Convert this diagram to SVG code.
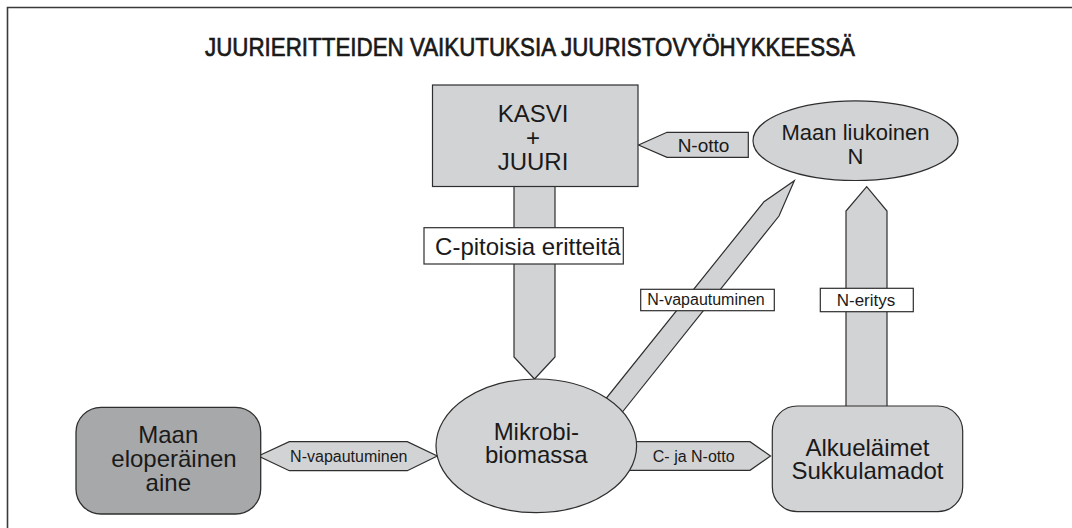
<svg xmlns="http://www.w3.org/2000/svg" width="1072" height="528" viewBox="0 0 1072 528">
  <style>
    .shape { fill: #d2d3d5; stroke: #2e2e2e; stroke-width: 1.2; }
    .dark { fill: #a7a8aa; stroke: #2e2e2e; stroke-width: 1.3; }
    .tag { fill: #ffffff; stroke: #2e2e2e; stroke-width: 1.2; }
    text { font-family: "Liberation Sans", Arial, sans-serif; fill: #1a1a1a; text-anchor: middle; }
    .big { font-size: 24px; }
    .mid { font-size: 22px; }
    .small { font-size: 16px; }
    .title { font-size: 26px; stroke: #1a1a1a; stroke-width: 0.7; }
  </style>

  <rect width="1072" height="528" fill="#ffffff"/>
  <!-- frame: top and left edges -->
  <path d="M7.5,528 V7.5 H1072" fill="none" stroke="#3a3a3a" stroke-width="1.6"/>

  <text class="title" x="530" y="56" textLength="650" lengthAdjust="spacingAndGlyphs">JUURIERITTEIDEN VAIKUTUKSIA JUURISTOVYÖHYKKEESSÄ</text>

  <!-- connectors -->
  <g id="connectors">
    <!-- root exudates flowing down to microbes -->
    <polygon class="shape" points="514,186 555,186 555,357 534.5,379 514,357"/>
    <!-- N uptake by plant -->
    <polygon class="shape" points="638.5,145 667,132.3 748.3,132.3 748.3,157.3 667,157.3"/>
    <!-- N release from microbes to soluble N -->
    <polygon class="shape" points="794.3,180.7 779,216 616,420 600,406 764,201.7"/>
    <!-- N excretion from fauna -->
    <polygon class="shape" points="846,406.5 846,211 866.7,186.7 887,211 887,406.5"/>
    <!-- C and N uptake by fauna -->
    <polygon class="shape" points="620,441.7 750,441.7 770.5,456 750,470.3 620,470.3"/>
    <!-- N release between organic matter and microbes -->
    <polygon class="shape" points="258.3,456 289.3,441.7 407.3,441.7 437.3,456 407.3,470.7 289.3,470.7"/>
  </g>

  <!-- connector labels -->
  <g id="labels">
    <rect class="tag" x="424" y="227.7" width="199.3" height="36.3"/>
    <text class="big" x="527.8" y="254.5">C-pitoisia eritteitä</text>
    <text x="703.5" y="151.5" style="font-size:19px">N-otto</text>
    <rect class="tag" x="640.7" y="289.3" width="133.6" height="21.4"/>
    <text class="small" x="706" y="305">N-vapautuminen</text>
    <rect class="tag" x="820.3" y="288.3" width="93" height="23.4"/>
    <text x="866" y="305.5" style="font-size:17px">N-eritys</text>
    <text class="small" x="693.7" y="461.5">C- ja N-otto</text>
    <text class="small" x="348.8" y="462">N-vapautuminen</text>
  </g>

  <g id="kasvi">
    <rect class="shape" x="432.5" y="85" width="205.5" height="101.5"/>
    <text class="big" x="533" y="122">KASVI</text>
    <text class="big" x="533" y="146">+</text>
    <text class="big" x="533" y="169.5">JUURI</text>
  </g>

  <g id="liukoinen">
    <ellipse class="shape" cx="855.5" cy="140.7" rx="102.5" ry="39.8"/>
    <text class="mid" x="855.5" y="139.5">Maan liukoinen</text>
    <text class="mid" x="855.5" y="164">N</text>
  </g>

  <g id="mikrobi">
    <ellipse class="shape" cx="536.3" cy="445.8" rx="100.3" ry="66.8"/>
    <text class="big" x="536.3" y="439.5">Mikrobi-</text>
    <text class="big" x="536.3" y="463">biomassa</text>
  </g>

  <g id="eloperainen">
    <rect class="dark" x="76" y="407.3" width="184.7" height="106.7" rx="25" ry="25"/>
    <text class="big" x="168.3" y="443">Maan</text>
    <text class="big" x="174" y="467">eloperäinen</text>
    <text class="big" x="168.3" y="490.5">aine</text>
  </g>

  <g id="alkuelaimet">
    <rect class="shape" x="772.3" y="406" width="190.4" height="105.7" rx="25" ry="25"/>
    <text class="big" x="867.5" y="455.5">Alkueläimet</text>
    <text class="big" x="867.5" y="479">Sukkulamadot</text>
  </g>
</svg>
